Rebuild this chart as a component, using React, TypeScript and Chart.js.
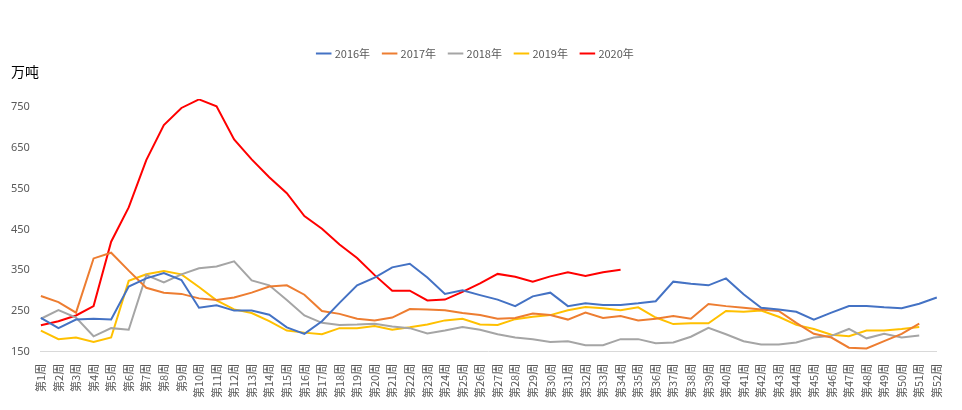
import React, { useEffect, useRef } from "react";
import { Chart, registerables } from "chart.js";
Chart.register(...registerables);

const weeks = Array.from({ length: 52 }, (_, i) => `第${i + 1}周`);
const yTicks = [150, 250, 350, 450, 550, 650, 750];
const s2016 = [233,208,229,231,229,310,330,343,326,258,264,251,251,241,210,194,225,270,313,332,357,366,332,292,301,289,278,262,286,295,262,269,265,265,269,274,322,317,313,330,291,258,254,248,229,246,262,262,259,257,268,283];
const s2017 = [287,272,246,379,393,349,307,295,292,281,277,283,295,310,313,290,250,243,231,227,234,255,254,252,245,240,231,233,244,240,229,246,233,238,227,231,238,231,267,262,258,254,250,221,194,185,160,158,176,194,219];
const s2018 = [231,252,234,188,208,204,338,320,340,355,359,372,325,313,277,239,221,216,217,219,212,208,195,202,211,204,193,185,181,174,176,166,166,181,181,171,173,187,209,193,176,168,168,173,185,189,206,183,194,185,190];
const s2019 = [202,181,185,174,185,324,340,348,340,309,276,254,245,225,202,197,193,208,208,213,204,210,217,227,231,217,216,230,236,240,252,260,257,252,259,234,218,220,220,250,248,251,236,216,206,192,188,202,202,206,211];
const s2020 = [215,225,239,262,420,504,620,706,748,769,752,671,622,578,539,483,452,413,380,338,300,300,276,278,297,318,341,334,322,335,345,336,345,351];

const series = [
  { label: "2016年", data: s2016, color: "#4472C4" },
  { label: "2017年", data: s2017, color: "#ED7D31" },
  { label: "2018年", data: s2018, color: "#A5A5A5" },
  { label: "2019年", data: s2019, color: "#FFC000" },
  { label: "2020年", data: s2020, color: "#FF0000" },
];

export default function App() {
  const ref = useRef<HTMLCanvasElement>(null);
  useEffect(() => {
    const unit = {
      id: "unit",
      beforeInit(c: any) {
        const orig = c.legend?.fit;
        if (c.legend && orig) {
          c.legend.fit = function () {
            orig.call(this);
            this.height += 30;
          };
        }
      },
      afterDraw(c: any) {
        const ctx = c.ctx;
        ctx.save();
        ctx.fillStyle = "#000";
        ctx.font = "14px 'Noto Sans CJK SC'";
        ctx.textBaseline = "middle";
        ctx.fillText("万吨", 3, 64);
        ctx.restore();
      },
    };
    const chart = new Chart(ref.current!, {
      type: "line",
      data: {
        labels: weeks,
        datasets: series.map((s) => ({
          label: s.label,
          data: s.data,
          borderColor: s.color,
          backgroundColor: s.color,
          borderWidth: 2,
          pointRadius: 0,
          tension: 0,
          fill: false,
        })),
      },
      options: {
        animation: false,
        responsive: false,
        layout: { padding: { left: 0, right: 10, top: 26, bottom: 0 } },
        plugins: {
          legend: {
            position: "top",
            labels: {
              usePointStyle: true,
              pointStyle: "line",
              boxWidth: 26,
              font: { size: 11, family: "'Noto Sans CJK SC'" },
              color: "#595959",
              padding: 14,
            },
            onClick: () => {},
          },
          tooltip: { enabled: false },
        },
        scales: {
          x: {
            grid: { display: false },
            border: { color: "#D9D9D9" },
            ticks: {
              minRotation: 90,
              maxRotation: 90,
              autoSkip: false,
              color: "#595959",
              font: { size: 11, family: "'Noto Sans CJK SC'" },
              padding: 4,
            },
          },
          y: {
            min: 150,
            max: 770,
            grid: { display: false },
            border: { display: false },
            afterBuildTicks: (axis: any) => {
              axis.ticks = yTicks.map((v) => ({ value: v }));
            },
            ticks: {
              color: "#595959",
              font: { size: 11, family: "'Noto Sans'" },
            },
          },
        },
      },
      plugins: [unit],
    });
    return () => chart.destroy();
  }, []);
  return <canvas ref={ref} width={946} height={394} />;
}
